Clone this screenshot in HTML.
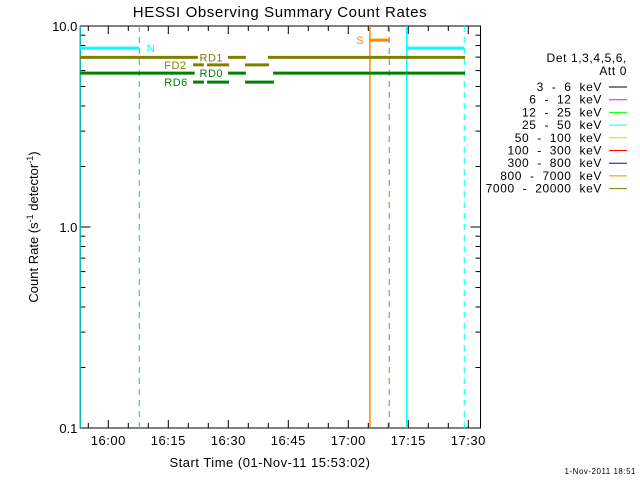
<!DOCTYPE html>
<html><head><meta charset="utf-8"><style>
body{margin:0;background:#fff}
svg{display:block;font-family:"Liberation Sans",sans-serif}
</style></head><body>
<svg id="c" width="640" height="480" viewBox="0 0 640 480">
<rect width="640" height="480" fill="#fff"/>
<text x="280" y="17" font-size="15" text-anchor="middle" letter-spacing="0.6">HESSI Observing Summary Count Rates</text>
<g id="axes"></g>
<g id="marks"></g>
<text x="270" y="467" font-size="13" text-anchor="middle" letter-spacing="0.5">Start Time (01-Nov-11 15:53:02)</text>
<text transform="translate(38,227) rotate(-90)" font-size="13" text-anchor="middle">Count Rate (s<tspan font-size="9" dy="-5">-1</tspan><tspan dy="5"> detector</tspan><tspan font-size="9" dy="-5">-1</tspan><tspan dy="5">)</tspan></text>
<text x="636" y="474" font-size="8" text-anchor="end" letter-spacing="0.5">1-Nov-2011 18:51</text>
<g id="legend"></g>
</svg>
<script>
// times in minutes after 16:00
const xTickLabels=["16:00","16:15","16:30","16:45","17:00","17:15","17:30"];
const xTickTimes=[0,15,30,45,60,75,90];
const yTickValues=[0.1,1,10];
const yTickLabels=["0.1","1.0","10.0"];
const legendLabels=["3 - 6 keV","6 - 12 keV","12 - 25 keV","25 - 50 keV","50 - 100 keV","100 - 300 keV","300 - 800 keV","800 - 7000 keV","7000 - 20000 keV"];
const legendColors=["#000","#ff00ff","#00ff00","#00ffff","#dddd00","#ff0000","#0000ff","#ff8800","#808000"];
// flag segments: [start, end, value]
const nightSegs=[[-7.1,7.75,7.76],[74.6,89,7.76]];
const saaSegs=[[65.4,70.25,8.5]];
const rd1Segs=[[-7.1,22.4,6.98],[29.9,34.4,6.98],[39.9,89.2,6.98]];
const fd2Segs=[[21.2,23.9,6.41],[24.7,30.2,6.41],[34.2,40.2,6.41]];
const rd0Segs=[[-7.1,21.6,5.83],[29.9,34.4,5.83],[41.2,89.2,5.83]];
const rd6Segs=[[21.2,23.9,5.26],[24.7,30.2,5.26],[34.2,41.4,5.26]];
const solidVLines=[[-7.1,"#00ffff"],[74.6,"#00ffff"],[65.4,"#ff8800"]];
const dashedVLines=[[7.75,"#00ffff"],[89,"#00ffff"],[70.25,"#ff8800"]];

const L=80.4,R=480.5,T=26,B=428;
const x=t=>108.3+4*t;
const y=v=>T+(B-T)/2*(1-Math.log10(v));
const NS="http://www.w3.org/2000/svg";
function mk(tag,attrs,parent){const e=document.createElementNS(NS,tag);for(const k in attrs)e.setAttribute(k,attrs[k]);parent.appendChild(e);return e;}
const axes=document.getElementById('axes'),marks=document.getElementById('marks'),leg=document.getElementById('legend');

solidVLines.forEach(d=>{const e=mk('line',{x1:x(d[0]),x2:x(d[0]),y1:T,y2:B,stroke:d[1],'stroke-width':1.5},marks);

});
dashedVLines.forEach(d=>{const e=mk('line',{x1:x(d[0]),x2:x(d[0]),y1:T,y2:B,stroke:d[1],'stroke-width':1,'stroke-dasharray':'6,5'},marks);

});
[7.75,70.25].forEach(t=>{const e=mk('line',{x1:x(t),x2:x(t),y1:T,y2:B,stroke:'#999','stroke-width':1,'stroke-dasharray':'6,5'},marks);

});

function segs(arr,color,name){arr.forEach(s=>{const e=mk('line',{x1:x(s[0]),x2:x(s[1]),y1:y(s[2]),y2:y(s[2]),stroke:color,'stroke-width':3},marks);

});}
segs(nightSegs,'#00ffff','night-flag');
segs(saaSegs,'#ff8800','saa-flag');
segs(rd1Segs,'#808000','rd1-flag');
segs(fd2Segs,'#808000','fd2-flag');
segs(rd0Segs,'#008000','rd0-flag');
segs(rd6Segs,'#008000','rd6-flag');
function lab(t,v,s,c,n){const e=mk('text',{x:x(t),y:y(v)+4,'font-size':11,fill:c,'letter-spacing':0.5},marks);e.textContent=s;

}
lab(9.6,nightSegs[0][2],'N','#00ffff','night-label');
lab(62,saaSegs[0][2],'S','#ff8800','saa-label');
lab(22.8,rd1Segs[0][2],'RD1','#808000','rd1-label');
lab(14,fd2Segs[0][2],'FD2','#808000','fd2-label');
lab(22.8,rd0Segs[0][2],'RD0','#008000','rd0-label');
lab(14,rd6Segs[0][2],'RD6','#008000','rd6-label');

const f=mk('rect',{x:L,y:T,width:R-L,height:B-T,fill:'none',stroke:'#000','stroke-width':1},axes);


for(let t=-5;t<=90;t+=5){const maj=t%15===0,len=maj?8:5;
mk('line',{x1:x(t),x2:x(t),y1:B,y2:B-len,stroke:'#000'},axes);
mk('line',{x1:x(t),x2:x(t),y1:T,y2:T+len,stroke:'#000'},axes);}
xTickTimes.forEach((t,i)=>{const e=mk('text',{x:x(t),y:B+17,'font-size':13,'text-anchor':'middle','letter-spacing':0.5},axes);e.textContent=xTickLabels[i];

});
for(let d=0.1;d<10;d*=10){for(let m=1;m<=10;m++){const v=d*m,len=(m===1||m===10)?10:5;
mk('line',{x1:L,x2:L+len,y1:y(v),y2:y(v),stroke:'#000'},axes);
mk('line',{x1:R,x2:R-len,y1:y(v),y2:y(v),stroke:'#000'},axes);}}
yTickValues.forEach((v,i)=>{const e=mk('text',{x:L-3,y:y(v)+5,'font-size':13,'text-anchor':'end'},axes);e.textContent=yTickLabels[i];

});

[["Det 1,3,4,5,6,",62],["Att 0",75]].forEach(h=>{const e=mk('text',{x:627,y:h[1],'font-size':12,'text-anchor':'end','letter-spacing':0.6},leg);e.textContent=h[0];

});
legendLabels.forEach((s,i)=>{const yy=87+i*12.7;
const e=mk('text',{x:602,y:yy+4,'font-size':12,'text-anchor':'end','letter-spacing':0.6,'word-spacing':4},leg);e.textContent=s;


const l=mk('line',{x1:609,x2:627,y1:yy,y2:yy,stroke:legendColors[i]},leg);

});
</script>
</body></html>
